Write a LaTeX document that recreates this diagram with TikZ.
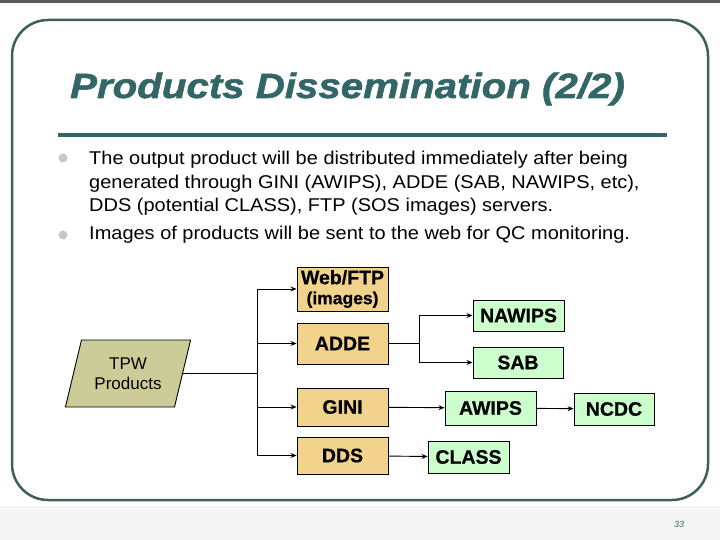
\documentclass[tikz,border=0pt]{standalone}
\usepackage{fontspec}
\setmainfont{Liberation Sans}
\newfontfamily\titlefont[FakeStretch=1.15, FakeBold=1.5]{Liberation Sans}
\newfontfamily\bodyfont[FakeStretch=1.08]{Liberation Sans}
\newfontfamily\boxfont[FakeBold=0.6]{Liberation Sans}
\usepackage{xcolor}
\usetikzlibrary{shapes.geometric, arrows.meta, positioning}

\definecolor{slidegreen}{HTML}{336666}
\definecolor{framegreen}{HTML}{3D5F5F}
\definecolor{sand}{HTML}{F2D38C}
\definecolor{mint}{HTML}{CCFFCC}
\definecolor{khaki}{HTML}{CCCC99}
\definecolor{dotgray}{HTML}{C5CABA}

\begin{document}
\begin{tikzpicture}[
    x=1pt, y=-1pt,
    server/.style={rectangle, draw, line width=0.9pt, fill=sand, minimum width=91pt, inner sep=0pt, align=center, font=\boxfont\fontsize{19.5}{20}\selectfont\bfseries},
    target/.style={rectangle, draw, line width=0.9pt, fill=mint, inner sep=0pt, font=\boxfont\fontsize{19.5}{20}\selectfont\bfseries},
    link/.style={line width=0.9pt},
    arrow/.style={-{Stealth[length=6pt, width=5pt]}, line width=0.9pt}
]
\useasboundingbox (0,0) rectangle (720,540);
\fill[white] (0,0) rectangle (720,540);
\fill[black!4] (0,506) rectangle (720,540);
\fill[black!65] (0,0) rectangle (720,3);

% slide frame and title
\draw[framegreen, line width=2.5pt, rounded corners=36pt] (12,20) rectangle (708,500);
\node[anchor=base west, inner sep=0pt, text=slidegreen, font=\titlefont\fontsize{35}{35}\selectfont\bfseries\itshape] (title) at (70,98) {Products Dissemination (2/2)};
\fill[slidegreen] (58,133) rectangle (667,137.5);

% bullets
\fill[dotgray] (63,158) circle (4.5pt);
\fill[dotgray] (63,235) circle (4.5pt);
\node[anchor=north west, inner sep=0pt, align=left, font=\bodyfont\fontsize{18.5}{23.4}\selectfont] (item1) at (89,151) {The output product will be distributed immediately after being\\generated through GINI (AWIPS), ADDE (SAB, NAWIPS, etc),\\DDS (potential CLASS), FTP (SOS images) servers.};
\node[anchor=north west, inner sep=0pt, font=\bodyfont\fontsize{18.5}{23.4}\selectfont] (item2) at (89,226) {Images of products will be sent to the web for QC monitoring.};

% diagram
\node[trapezium, trapezium left angle=70, trapezium right angle=110, trapezium stretches=true, draw, line width=0.9pt, fill=khaki, minimum width=126pt, minimum height=67pt, inner sep=0pt, align=center, font=\fontsize{17}{20}\selectfont] (tpw) at (128,373.5) {TPW\\Products};

\node[server, minimum height=44pt] (web) at (342.5,289) {Web/FTP\\{\fontsize{17.5}{18}\selectfont(images)}};
\node[server, minimum height=41pt] (adde) at (342.5,343.5) {ADDE};
\node[server, minimum height=38pt] (gini) at (342.5,407) {GINI};
\node[server, minimum height=37pt] (dds) at (342.5,455.5) {DDS};

\node[target, minimum width=91pt, minimum height=31pt] (nawips) at (518.5,315.5) {NAWIPS};
\node[target, minimum width=90pt, minimum height=31pt] (sab) at (518,362.5) {SAB};
\node[target, minimum width=91pt, minimum height=34pt] (awips) at (490.5,408) {AWIPS};
\node[target, minimum width=80pt, minimum height=32pt] (ncdc) at (614,409) {NCDC};
\node[target, minimum width=81pt, minimum height=32pt] (class) at (468.5,457) {CLASS};

\node[text=slidegreen, font=\fontsize{9}{9}\selectfont\itshape] (pagenum) at (679,524) {33};

\coordinate (bus) at (257,373.5);
\coordinate (split) at (419,343.5);

\draw[link] (tpw.east) -- (bus);
\draw[link] (bus |- web) -- (bus |- dds);
\draw[arrow] (bus |- web) -- (web);
\draw[arrow] (bus |- adde) -- (adde);
\draw[arrow] (bus |- gini) -- (gini);
\draw[arrow] (bus |- dds) -- (dds);

\draw[link] (adde) -- (split);
\draw[link] (split |- nawips) -- (split |- sab);
\draw[arrow] (split |- nawips) -- (nawips);
\draw[arrow] (split |- sab) -- (sab);
\draw[arrow] (gini) -- (awips);
\draw[arrow] (awips) -- (ncdc);
\draw[arrow] (dds) -- (class);

\end{tikzpicture}
\end{document}
